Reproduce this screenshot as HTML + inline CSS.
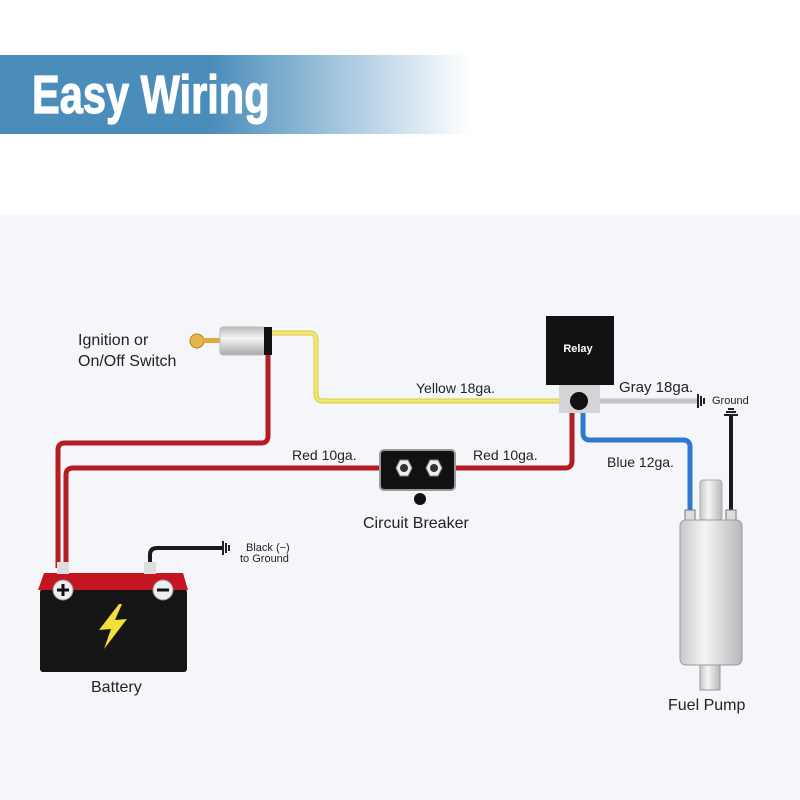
<!DOCTYPE html>
<html><head><style>
html,body{margin:0;padding:0;background:#fff;}
svg{display:block;}
</style></head><body>
<svg width="800" height="800" viewBox="0 0 800 800" xmlns="http://www.w3.org/2000/svg" font-family="Liberation Sans, DejaVu Sans, sans-serif">
<defs>
<linearGradient id="ban" x1="0" x2="1" y1="0" y2="0">
<stop offset="0" stop-color="#4a8dbb"/>
<stop offset="0.45" stop-color="#4a8dbb"/>
<stop offset="0.7" stop-color="#9cc2db"/>
<stop offset="1" stop-color="#ffffff"/>
</linearGradient>
<linearGradient id="pump" x1="0" x2="1">
<stop offset="0" stop-color="#c9c9cc"/><stop offset="0.4" stop-color="#f4f4f4"/><stop offset="1" stop-color="#b8b8bc"/>
</linearGradient>
<linearGradient id="sw" x1="0" x2="0" y1="0" y2="1">
<stop offset="0" stop-color="#bbb"/><stop offset="0.4" stop-color="#f5f5f5"/><stop offset="1" stop-color="#aaa"/>
</linearGradient>
</defs>
<rect x="0" y="0" width="800" height="800" fill="#fff"/>
<rect x="0" y="55" width="470" height="79" fill="url(#ban)"/>
<text x="32" y="113" fill="#fff" font-size="54" font-weight="bold" stroke="#fff" stroke-width="1.2" transform="translate(32 0) scale(0.77 1) translate(-32 0)">Easy Wiring</text>
<rect x="0" y="215" width="800" height="585" fill="#f5f6f9"/>

<g fill="none" stroke-linejoin="round" stroke-linecap="butt">
<path d="M272 333 H310 Q316 333 316 340 V394 Q316 401 323 401 H560" stroke="#d8c84a" stroke-width="5"/>
<path d="M272 333 H310 Q316 333 316 340 V394 Q316 401 323 401 H560" stroke="#f3e86a" stroke-width="3"/>
<path d="M268 355 V436 Q268 443 261 443 H65 Q58 443 58 450 V568" stroke="#b51d25" stroke-width="5"/>
<path d="M380 468 H73 Q66 468 66 475 V568" stroke="#b51d25" stroke-width="5"/>
<path d="M455 468 H565 Q572 468 572 461 V413" stroke="#b51d25" stroke-width="5"/>
<path d="M600 401 H697" stroke="#c4c4c6" stroke-width="5"/>
<path d="M583 413 V433 Q583 440 590 440 H683 Q690 440 690 447 V512" stroke="#2f7ad0" stroke-width="5"/>
<path d="M731 416 V512" stroke="#1a1a1a" stroke-width="4"/>
<path d="M150 572 V555 Q150 548 157 548 H222" stroke="#1a1a1a" stroke-width="4"/>
</g>
<g stroke="#222" stroke-width="2">
<line x1="698" y1="394" x2="698" y2="408"/><line x1="701" y1="396" x2="701" y2="406"/><line x1="704" y1="398" x2="704" y2="404"/>
<line x1="223" y1="541" x2="223" y2="555"/><line x1="226" y1="543" x2="226" y2="553"/><line x1="229" y1="545" x2="229" y2="551"/>
<line x1="724" y1="415" x2="738" y2="415"/><line x1="726" y1="412" x2="736" y2="412"/><line x1="728" y1="409" x2="734" y2="409"/>
</g>

<circle cx="197" cy="341" r="7" fill="#e8b54a" stroke="#b07f20"/>
<rect x="202" y="338" width="18" height="5" fill="#e0aa40"/>
<rect x="220" y="327" width="45" height="28" rx="3" fill="url(#sw)" stroke="#bbb"/>
<rect x="264" y="327" width="8" height="28" fill="#111"/>
<text x="78" y="345" font-size="16" fill="#222">Ignition or</text>
<text x="78" y="366" font-size="16" fill="#222">On/Off Switch</text>

<rect x="546" y="316" width="68" height="69" fill="#111"/>
<text x="578" y="352" font-size="11" font-weight="bold" fill="#fff" text-anchor="middle">Relay</text>
<rect x="559" y="385" width="41" height="28" fill="#d4d4d6"/>
<circle cx="579" cy="401" r="9" fill="#111"/>
<text x="619" y="392" font-size="15" fill="#222">Gray 18ga.</text>
<text x="712" y="404" font-size="11" fill="#222">Ground</text>
<text x="416" y="393" font-size="14" fill="#222">Yellow 18ga.</text>
<text x="607" y="467" font-size="14" fill="#222">Blue 12ga.</text>

<rect x="380" y="450" width="75" height="40" rx="4" fill="#111" stroke="#999" stroke-width="2"/>
<polygon points="396,468 400,460 408,460 412,468 408,476 400,476" fill="#eee" stroke="#888"/>
<circle cx="404" cy="468" r="4" fill="#333"/>
<polygon points="426,468 430,460 438,460 442,468 438,476 430,476" fill="#eee" stroke="#888"/>
<circle cx="434" cy="468" r="4" fill="#333"/>
<circle cx="420" cy="499" r="6" fill="#111"/>
<text x="292" y="460" font-size="14" fill="#222">Red 10ga.</text>
<text x="473" y="460" font-size="14" fill="#222">Red 10ga.</text>
<text x="363" y="528" font-size="16" fill="#222">Circuit Breaker</text>

<rect x="40" y="589" width="147" height="83" rx="3" fill="#151515"/>
<path d="M44 573 H183 L188 590 H38 Z" fill="#c41620"/>
<rect x="57" y="562" width="12" height="12" fill="#ddd"/>
<rect x="144" y="562" width="12" height="12" fill="#ddd"/>
<circle cx="63" cy="590" r="10" fill="#eee" stroke="#999"/>
<path d="M57 590 H69 M63 584 V596" stroke="#111" stroke-width="3"/>
<circle cx="163" cy="590" r="10" fill="#eee" stroke="#999"/>
<path d="M157 590 H169" stroke="#111" stroke-width="3"/>
<polygon points="119,604 99,630 111,629 104,649 127,619 115,620 122,604" fill="#f1e03a"/>
<text x="91" y="692" font-size="16" fill="#222">Battery</text>
<text x="246" y="551" font-size="11" fill="#222">Black (−)</text>
<text x="240" y="562" font-size="11" fill="#222">to Ground</text>

<rect x="700" y="480" width="22" height="40" rx="3" fill="url(#pump)" stroke="#aaa"/>
<rect x="685" y="510" width="10" height="14" fill="#ddd" stroke="#777"/>
<rect x="726" y="510" width="10" height="14" fill="#ddd" stroke="#777"/>
<rect x="680" y="520" width="62" height="145" rx="6" fill="url(#pump)" stroke="#999"/>
<rect x="700" y="665" width="20" height="25" fill="url(#pump)" stroke="#999"/>
<text x="668" y="710" font-size="16" fill="#222">Fuel Pump</text>
</svg>
</body></html>
